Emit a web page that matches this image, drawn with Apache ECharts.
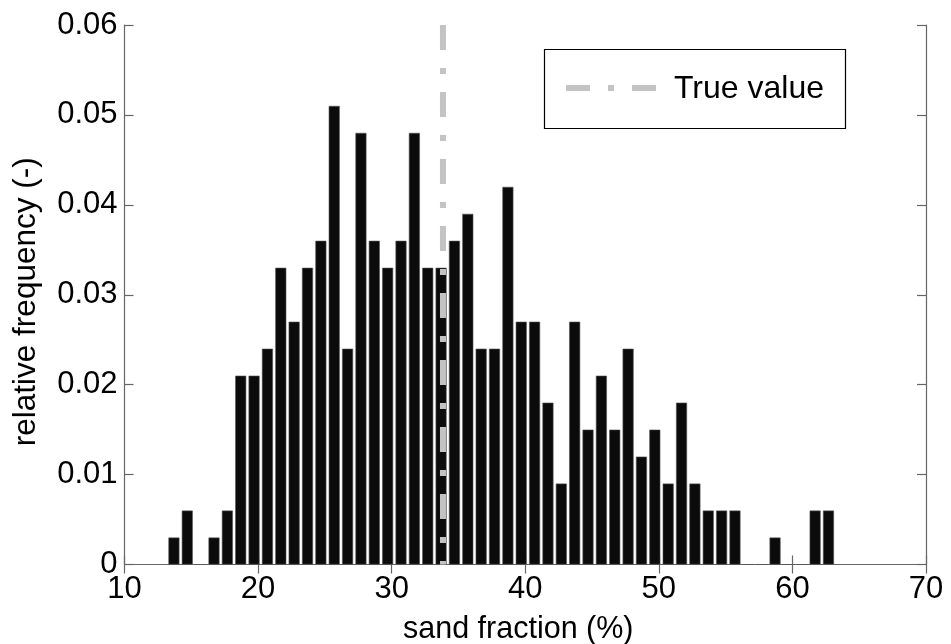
<!DOCTYPE html>
<html>
<head>
<meta charset="utf-8">
<script src="https://cdn.jsdelivr.net/npm/echarts@6/dist/echarts.min.js"></script>
<style>
html,body{margin:0;padding:0;background:#fff;}
#chart{width:951px;height:644px;}
</style>
</head>
<body>
<div id="chart"></div>
<script>
// Bin centres (sand fraction, %)
var binCenters = [13.7,14.7,15.7,16.7,17.7,18.7,19.7,20.7,21.7,22.7,23.7,24.7,25.7,26.7,27.7,28.7,29.7,30.7,31.7,32.7,33.7,34.7,35.7,36.7,37.7,38.7,39.7,40.7,41.7,42.7,43.7,44.7,45.7,46.7,47.7,48.7,49.7,50.7,51.7,52.7,53.7,54.7,55.7,56.7,57.7,58.7,59.7,60.7,61.7,62.7];
// Relative frequency per bin
var relFreq = [0.003,0.006,0,0.003,0.006,0.021,0.021,0.024,0.033,0.027,0.033,0.036,0.051,0.024,0.048,0.036,0.033,0.036,0.048,0.033,0.033,0.036,0.039,0.024,0.024,0.042,0.027,0.027,0.018,0.009,0.027,0.015,0.021,0.015,0.024,0.012,0.015,0.009,0.018,0.009,0.006,0.006,0.006,0,0,0.003,0,0,0.006,0.006];
// True value of sand fraction
var trueValue = 33.84;
var xTicks = [10,20,30,40,50,60,70];
var yTicks = [0,0.01,0.02,0.03,0.04,0.05,0.06];
var legendLabel = 'True value';
var xTitle = 'sand fraction (%)';
var yTitle = 'relative frequency (-)';

var FONT = '"Liberation Sans", Arial, sans-serif';
var chart = echarts.init(document.getElementById('chart'), null, {renderer:'canvas'});

var barData = binCenters.map(function(c,i){ return [c, relFreq[i]]; });
var axisLine = {show:true, lineStyle:{color:'#666', width:1.2}};
var axisTick = {show:true, inside:true, length:9, lineStyle:{color:'#666', width:1.2}};

var option = {
  animation:false,
  backgroundColor:'#fff',
  grid:{left:124.5, top:25, right:25, bottom:79.5, containLabel:false, outerBoundsMode:'none'},
  xAxis:[{
    type:'value', min:xTicks[0], max:xTicks[xTicks.length-1], interval:10,
    position:'bottom',
    axisLine:axisLine, axisTick:axisTick, splitLine:{show:false},
    axisLabel:{color:'#000', fontSize:31, fontFamily:FONT, margin:9},
    name:xTitle, nameLocation:'middle', nameGap:50,
    nameTextStyle:{color:'#000', fontSize:30.5, fontFamily:FONT, padding:[0,14,0,0]}
  },{
    type:'value', min:xTicks[0], max:xTicks[xTicks.length-1], interval:10,
    position:'top',
    axisLine:axisLine, axisTick:axisTick, splitLine:{show:false},
    axisLabel:{show:false}
  }],
  yAxis:[{
    type:'value', min:0, max:0.06, interval:0.01,
    position:'left',
    axisLine:axisLine, axisTick:axisTick, splitLine:{show:false},
    axisLabel:{color:'#000', fontSize:31, fontFamily:FONT, margin:7,
      formatter:function(v){ return v===0 ? '0' : v.toFixed(2); }},
    name:yTitle, nameLocation:'middle', nameGap:82, nameRotate:90,
    nameTextStyle:{color:'#000', fontSize:31.5, fontFamily:FONT, padding:[0,14,0,0]}
  },{
    type:'value', min:0, max:0.06, interval:0.01,
    position:'right',
    axisLine:axisLine, axisTick:axisTick, splitLine:{show:false},
    axisLabel:{show:false}
  }],
  series:[{
    type:'bar', xAxisIndex:0, yAxisIndex:0,
    data:barData, barWidth:11,
    itemStyle:{color:'#0b0b0b', borderColor:'#555', borderWidth:0.6},
    silent:true
  },{
    type:'line', xAxisIndex:0, yAxisIndex:0,
    data:[[trueValue, yTicks[yTicks.length-1]],[trueValue, 0]],
    symbol:'none',
    lineStyle:{color:'#c3c3c3', width:6, type:[25,18,6,18], cap:'butt'},
    silent:true, z:5
  }],
  graphic:[
    {type:'rect', shape:{x:544.5, y:49.5, width:301, height:79},
     style:{fill:'#fff', stroke:'#000', lineWidth:1.2}, z:10},
    {type:'line', shape:{x1:566, y1:88, x2:656, y2:88},
     style:{stroke:'#c3c3c3', lineWidth:6, lineDash:[24,18,6,18]}, z:11},
    {type:'text', x:674, y:89,
     style:{text:legendLabel, fill:'#000', fontSize:32, fontFamily:FONT, verticalAlign:'middle', align:'left'}, z:11}
  ]
};
chart.setOption(option);
</script>
</body>
</html>
